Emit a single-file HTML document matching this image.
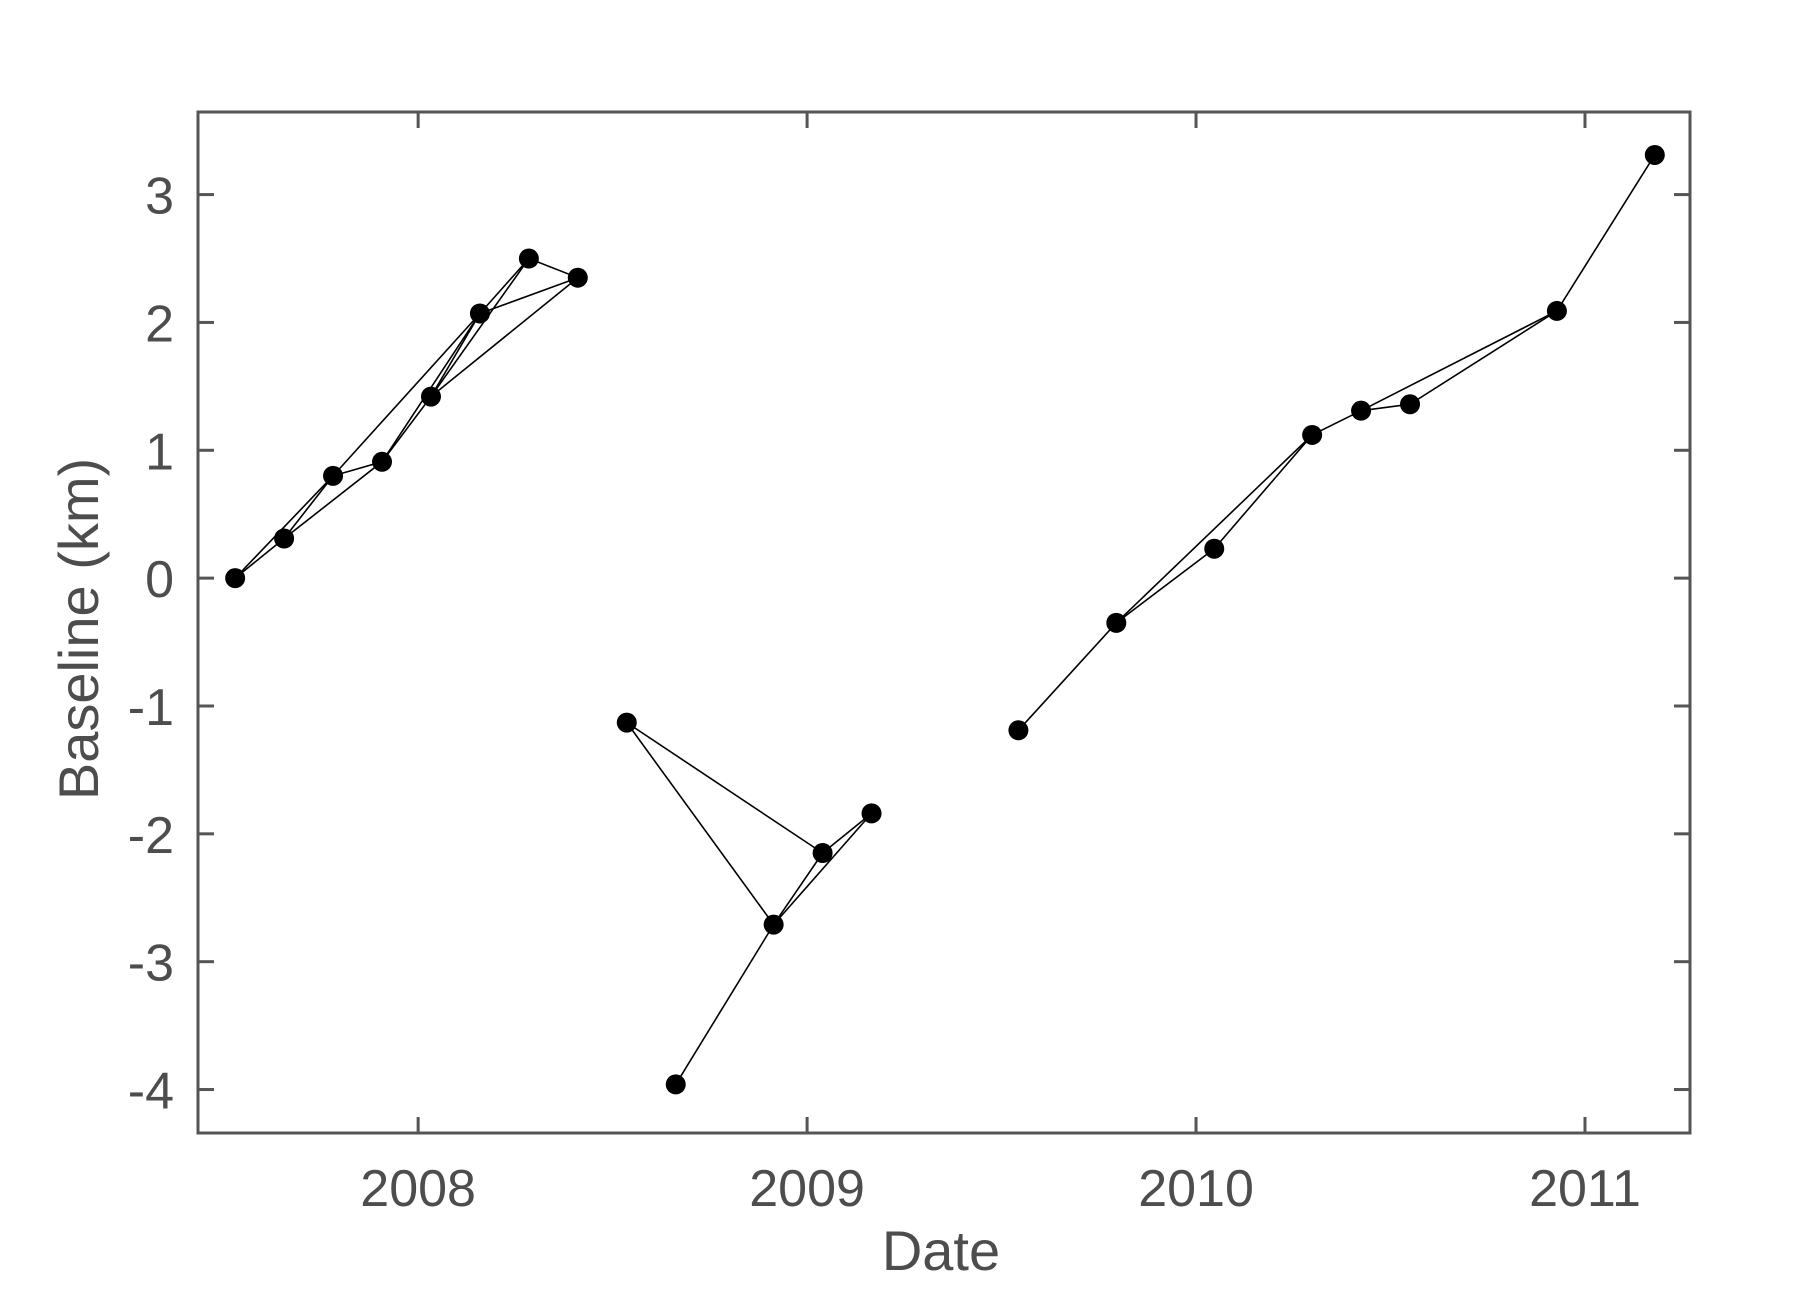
<!DOCTYPE html>
<html><head><meta charset="utf-8"><style>
html,body{margin:0;padding:0;background:#fff;}
svg{display:block;font-family:"Liberation Sans",sans-serif;}
</style></head><body>
<svg id="chart" width="1804" height="1296" viewBox="0 0 1804 1296" xmlns="http://www.w3.org/2000/svg">
<g id="lines"></g>
<g id="pts"></g>
<g id="axes"></g>
</svg>
<script>
const dates = [2007.5295,2007.6554,2007.7812,2007.9071,2008.0330,2008.1588,2008.2847,2008.4105,
  2008.5364,2008.6623,2008.9140,2009.0399,2009.1657,
  2009.5433,2009.7950,2010.0468,2010.2985,2010.4243,2010.5502,2010.9278,2011.1795];
const baselines = [0,0.31,0.8,0.91,1.42,2.07,2.5,2.35,
  -1.13,-3.96,-2.71,-2.15,-1.84,
  -1.19,-0.35,0.23,1.12,1.31,1.36,2.09,3.31];
const edgeFrom = [0,0,1,1,2,2,3,3,4,4,4,5,5,6, 8,8,9,10,10,11, 13,14,14,15,16,17,17,18,19];
const edgeTo   = [1,2,2,3,3,5,4,5,5,6,7,6,7,7, 10,11,10,11,12,12, 14,15,16,16,17,18,19,19,20];
const xTicks = [2008,2009,2010,2011];
const yTicks = [-4,-3,-2,-1,0,1,2,3];

const L=198,R=1690,T=112,B=1133;
const xMin=2007.434,xMax=2011.27,yMin=-4.34,yMax=3.646;
const sx=v=>L+(v-xMin)/(xMax-xMin)*(R-L);
const sy=v=>B-(v-yMin)/(yMax-yMin)*(B-T);
const NS="http://www.w3.org/2000/svg";
function mk(tag,attrs,parent){const e=document.createElementNS(NS,tag);for(const k in attrs)e.setAttribute(k,attrs[k]);parent.appendChild(e);return e;}
const gl=document.getElementById('lines'),gp=document.getElementById('pts'),ga=document.getElementById('axes');
for(let i=0;i<edgeFrom.length;i++){
  const a=edgeFrom[i],b=edgeTo[i];
  const e=mk('line',{x1:sx(dates[a]),y1:sy(baselines[a]),x2:sx(dates[b]),y2:sy(baselines[b]),stroke:'#000','stroke-width':1.6},gl);
  
  
}
for(let i=0;i<dates.length;i++){
  const c=mk('circle',{cx:sx(dates[i]),cy:sy(baselines[i]),r:10,fill:'#000'},gp);
  
  
}
const box=mk('rect',{x:L,y:T,width:R-L,height:B-T,fill:'none',stroke:'#555','stroke-width':3},ga);


for(const t of xTicks){
  const x=sx(t);
  mk('line',{x1:x,y1:B,x2:x,y2:B-16,stroke:'#555','stroke-width':3},ga);
  mk('line',{x1:x,y1:T,x2:x,y2:T+16,stroke:'#555','stroke-width':3},ga);
  const tx=mk('text',{x:x,y:1206,'text-anchor':'middle','font-size':52,fill:'#4d4d4d'},ga);
  tx.textContent=t;
  
  
}
for(const t of yTicks){
  const y=sy(t);
  mk('line',{x1:L,y1:y,x2:L+16,y2:y,stroke:'#555','stroke-width':3},ga);
  mk('line',{x1:R,y1:y,x2:R-16,y2:y,stroke:'#555','stroke-width':3},ga);
  const tx=mk('text',{x:174,y:y+19,'text-anchor':'end','font-size':52,fill:'#4d4d4d'},ga);
  tx.textContent=t;
  
  
}
const xl=mk('text',{x:941,y:1270,'text-anchor':'middle','font-size':56,fill:'#4d4d4d'},ga);
xl.textContent='Date';


const yl=mk('text',{x:0,y:0,'text-anchor':'middle','font-size':56,fill:'#4d4d4d',transform:'translate(98,629) rotate(-90)'},ga);
yl.textContent='Baseline (km)';


</script>
</body></html>
